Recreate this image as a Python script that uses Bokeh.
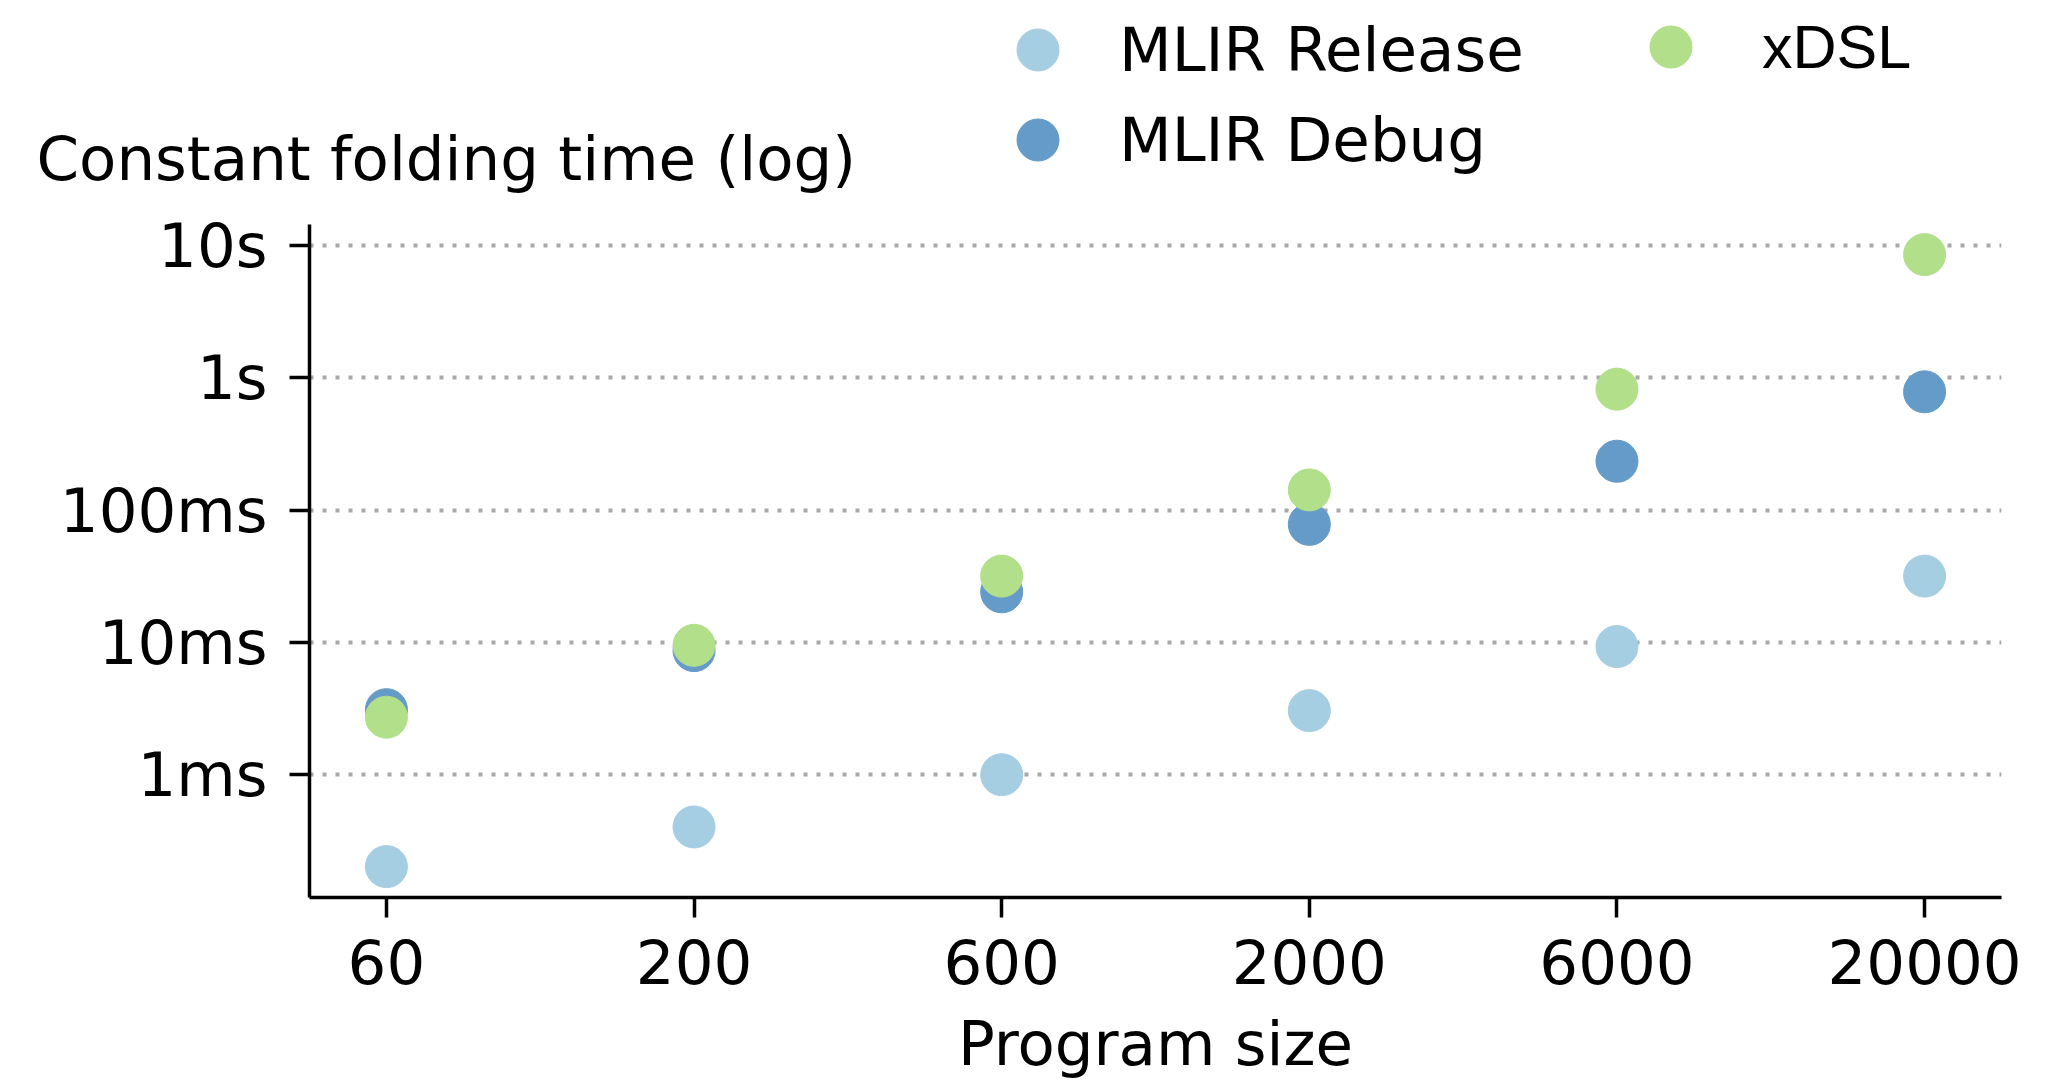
from bokeh.plotting import figure
from bokeh.layouts import column
from bokeh.models import (Range1d, FixedTicker, CustomJSTickFormatter, Legend, LegendItem, Label)
from bokeh.embed import file_html
from bokeh.resources import INLINE

# ---- data ----
program_sizes = ["60", "200", "600", "2000", "6000", "20000"]
mlir_release = [0.000202, 0.000403, 0.00100, 0.00305, 0.00930, 0.0317]   # seconds
mlir_debug = [0.0031, 0.00867, 0.0241, 0.0780, 0.234, 0.783]
xdsl = [0.00272, 0.0095, 0.0317, 0.142, 0.82, 8.53]
y_tick_values = [0.001, 0.01, 0.1, 1, 10]
y_tick_labels = ["1ms", "10ms", "100ms", "1s", "10s"]
series_names = ["MLIR Release", "MLIR Debug", "xDSL"]

FONT = "DejaVu Sans"
FS = "61px"
C_REL = "#a6cee3"
C_DBG = "#659bc8"
C_XDSL = "#b2df8a"
W = 2047
TOP_H = 200
MAIN_H = 883

xs = list(range(len(program_sizes)))

# ---------------- header strip: y-axis title + legend ----------------
# frame covers the whole strip; y runs downward in pixels of the strip
top = figure(width=W, height=TOP_H, output_backend="svg", toolbar_location=None,
             x_range=Range1d(0, W), y_range=Range1d(TOP_H, 0),
             x_axis_location=None, y_axis_location=None, min_border=0)
top.outline_line_color = None
top.xgrid.grid_line_color = None
top.ygrid.grid_line_color = None
if "frame_align" in top.properties():
    top.frame_align = False

# the series themselves, drawn on an off-screen range: they only feed the legend
top.extra_x_ranges = {"off": Range1d(1000, 2000)}
lr_rel = top.scatter(xs, mlir_release, size=42, color=C_REL, line_color=C_REL, x_range_name="off")
lr_dbg = top.scatter(xs, mlir_debug, size=42, color=C_DBG, line_color=C_DBG, x_range_name="off")
lr_xdsl = top.scatter(xs, xdsl, size=42, color=C_XDSL, line_color=C_XDSL, x_range_name="off")

top.add_layout(Label(x=36, y=158, text="Constant folding time (log)", text_font=FONT,
                     text_font_size=FS, text_color="black",
                     text_baseline="alphabetic", text_align="left"))

common = dict(border_line_color=None, background_fill_alpha=0, padding=0, margin=0,
              glyph_width=105, glyph_height=105, label_height=105, spacing=0,
              label_text_font_size=FS, label_text_color="black")
leg_rel = Legend(items=[LegendItem(label=series_names[0], renderers=[lr_rel])],
                 location=(985, 98), label_standoff=29, label_text_font=FONT, **common)
leg_dbg = Legend(items=[LegendItem(label=series_names[1], renderers=[lr_dbg])],
                 location=(985, 8), label_standoff=29, label_text_font=FONT, **common)
leg_xdsl = Legend(items=[LegendItem(label=series_names[2], renderers=[lr_xdsl])],
                  location=(1618, 101), label_standoff=39, label_text_font="Liberation Sans", **common)
for lg in (leg_rel, leg_dbg, leg_xdsl):
    top.add_layout(lg, "center")

# ---------------- main scatter plot ----------------
p = figure(width=W, height=MAIN_H, output_backend="svg", toolbar_location=None,
           x_range=Range1d(-0.25, 5.25), y_range=Range1d(1.18e-4, 14.4),
           y_axis_type="log",
           min_border_left=309, min_border_right=46, min_border_top=24, min_border_bottom=186)
p.outline_line_color = None
if "frame_align" in p.properties():
    p.frame_align = False

p.scatter(xs, mlir_release, size=42, color=C_REL, line_color=C_REL)
p.scatter(xs, mlir_debug, size=42, color=C_DBG, line_color=C_DBG)
p.scatter(xs, xdsl, size=42, color=C_XDSL, line_color=C_XDSL)

xa = p.xaxis[0]
xa.ticker = FixedTicker(ticks=xs)
xa.major_label_overrides = {i: s for i, s in enumerate(program_sizes)}
xa.axis_label = "Program size"
ya = p.yaxis[0]
ya.ticker = FixedTicker(ticks=y_tick_values)
ya.formatter = CustomJSTickFormatter(args=dict(vals=y_tick_values, labs=y_tick_labels), code="""
    for (let i = 0; i < vals.length; i++) {
        if (Math.abs(Math.log10(vals[i]) - Math.log10(tick)) < 1e-6) return labs[i];
    }
    return "";
""")

for ax in (xa, ya):
    ax.axis_line_color = "black"
    ax.axis_line_width = 3.5
    ax.major_tick_line_color = "black"
    ax.major_tick_line_width = 3.5
    ax.major_tick_out = 20
    ax.major_tick_in = 0
    ax.minor_tick_line_color = None
    ax.major_label_text_font = FONT
    ax.major_label_text_font_size = FS
    ax.major_label_text_color = "black"
    ax.axis_label_text_font = FONT
    ax.axis_label_text_font_size = FS
    ax.axis_label_text_font_style = "normal"
    ax.axis_label_text_color = "black"
xa.major_label_standoff = 21
xa.axis_label_standoff = 21
ya.major_label_standoff = 22

p.xgrid.grid_line_color = None
p.ygrid.grid_line_color = "#a8a8a8"
p.ygrid.grid_line_width = 4
p.ygrid.grid_line_dash = "4 9"

layout = column(top, p, spacing=0)
open("out.html", "w").write(file_html(layout, INLINE))
